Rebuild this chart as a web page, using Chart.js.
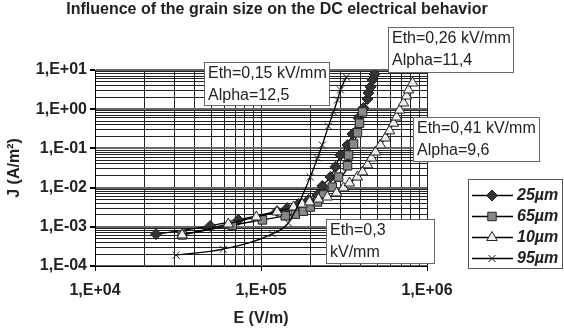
<!DOCTYPE html>
<html>
<head>
<meta charset="utf-8">
<script src="https://cdn.jsdelivr.net/npm/chart.js@4/dist/chart.umd.min.js"></script>
<style>
  body { margin: 0; background: #fff; }
</style>
</head>
<body>
<canvas id="myChart" width="564" height="328"></canvas>
<script>
// values: E in V/m, J in A/m2
var e25 = [2.33e4, 4.94e4, 7.3e4, 1.25e5, 1.44e5, 1.68e5, 1.93e5, 2.19e5, 2.34e5, 2.62e5, 2.81e5, 3.01e5, 3.32e5, 3.56e5, 3.86e5, 4.14e5, 4.38e5, 4.44e5, 4.57e5, 4.70e5, 4.83e5];
var j25 = [6.5e-4, 1.05e-3, 1.5e-3, 2.5e-3, 3.0e-3, 3.8e-3, 4.8e-3, 6.5e-3, 1.1e-2, 1.86e-2, 3.4e-2, 6.8e-2, 0.122, 0.233, 0.60, 1.07, 1.82, 2.6, 3.7, 5.6, 7.9];

var e65 = [3.35e4, 6.71e4, 1.02e5, 1.40e5, 1.61e5, 1.80e5, 1.98e5, 2.19e5, 2.38e5, 2.69e5, 2.93e5, 3.32e5, 3.37e5, 3.61e5, 3.81e5, 3.92e5, 4.09e5];
var j65 = [6.2e-4, 1.1e-3, 1.5e-3, 1.9e-3, 2.1e-3, 2.5e-3, 3.2e-3, 4.3e-3, 6.5e-3, 1.03e-2, 1.86e-2, 3.6e-2, 6.8e-2, 0.13, 0.25, 0.44, 0.85];

var e10 = [3.35e4, 6.35e4, 9.37e4, 1.25e5, 1.57e5, 1.77e5, 1.96e5, 2.22e5, 2.51e5, 2.85e5, 3.14e5, 3.41e5, 3.81e5, 4.09e5, 4.38e5, 4.63e5, 4.90e5, 5.25e5, 5.62e5, 5.95e5, 6.29e5, 6.56e5, 6.84e5, 7.22e5, 7.53e5, 7.74e5, 8.19e5];
var j10 = [6.2e-4, 1.18e-3, 1.78e-3, 2.4e-3, 3.2e-3, 3.8e-3, 4.3e-3, 5.1e-3, 5.75e-3, 7.3e-3, 9.8e-3, 1.31e-2, 1.86e-2, 2.5e-2, 3.8e-2, 5.7e-2, 8.1e-2, 0.122, 0.184, 0.28, 0.44, 0.63, 0.95, 1.44, 2.17, 3.09, 4.66];

var e95 = [3.08e4, 5.92e4, 1.17e5, 1.46e5, 1.98e5, 2.19e5, 2.34e5, 2.55e5, 2.73e5, 2.89e5, 3.01e5, 3.27e5];
var j95 = [1.9e-4, 2.7e-4, 6.6e-4, 1.25e-3, 1.86e-2, 5.7e-2, 0.122, 0.37, 0.85, 1.72, 3.09, 6.6];

var seriesNames = ['25µm', '65µm', '10µm', '95µm'];

var xTickValues = [1e4, 1e5, 1e6];
var xTickLabels = ['1,E+04', '1,E+05', '1,E+06'];
var yTickValues = [1e-4, 1e-3, 1e-2, 1e-1, 1e0, 1e1];
var yTickLabels = ['1,E-04', '1,E-03', '1,E-02', '1,E-01', '1,E+00', '1,E+01'];

var chartTitle = 'Influence of the grain size on the DC electrical behavior';
var xTitle = 'E (V/m)';
var yTitle = 'J (A/m²)';

var notes = [
    {lines: ['Eth=0,15 kV/mm', 'Alpha=12,5'], box: [204, 62, 125, 43]},
    {lines: ['Eth=0,26 kV/mm', 'Alpha=11,4'], box: [388, 27, 125, 45]},
    {lines: ['Eth=0,41 kV/mm', 'Alpha=9,6'], box: [413, 117, 126, 44]},
    {lines: ['Eth=0,3', 'kV/mm'], box: [326, 219, 108, 44]}
];

var FONT = '"Liberation Sans", Arial, sans-serif';

function points(xs, ys) {
    return xs.map(function(x, i) { return {x: x, y: ys[i]}; });
}

// log gridline positions: 1..9 x each decade, then the top value
function logTicks(values) {
    var ticks = [];
    for (var i = 0; i < values.length - 1; i++) {
        for (var d = 1; d <= 9; d++) {
            ticks.push({value: values[i] * d, major: d === 1});
        }
    }
    ticks.push({value: values[values.length - 1], major: true});
    return ticks;
}

function labelFor(values, labels, v) {
    for (var i = 0; i < values.length; i++) {
        if (Math.abs(v / values[i] - 1) < 1e-6) return labels[i];
    }
    return '';
}

function makeSet(label, data, style, radius, fill, order) {
    return {
        label: label,
        data: data,
        showLine: true,
        borderColor: '#000',
        borderWidth: 1.3,
        cubicInterpolationMode: 'monotone',
        pointStyle: style,
        pointRadius: radius,
        pointHoverRadius: radius,
        pointBackgroundColor: fill,
        pointBorderColor: '#222',
        pointBorderWidth: 1,
        order: order
    };
}

var decor = {
    id: 'decor',
    afterDraw: function(chart) {
        var ctx = chart.ctx;
        ctx.save();
        // title
        ctx.fillStyle = '#222';
        ctx.font = 'bold 16px ' + FONT;
        ctx.textAlign = 'center';
        ctx.textBaseline = 'middle';
        ctx.fillText(chartTitle, 277, 10);

        // text boxes
        ctx.font = '16px ' + FONT;
        ctx.textAlign = 'left';
        notes.forEach(function(n) {
            var b = n.box;
            ctx.fillStyle = '#fff';
            ctx.fillRect(b[0], b[1], b[2], b[3]);
            ctx.strokeStyle = '#666';
            ctx.lineWidth = 1;
            ctx.strokeRect(b[0] + 0.5, b[1] + 0.5, b[2], b[3]);
            ctx.fillStyle = '#222';
            n.lines.forEach(function(t, k) {
                ctx.fillText(t, b[0] + 4, b[1] + 12 + k * 22);
            });
        });

        // legend
        var lx = 468, ly = 179;
        ctx.fillStyle = '#fff';
        ctx.fillRect(lx, ly, 94, 89);
        ctx.strokeStyle = '#555';
        ctx.strokeRect(lx + 0.5, ly + 0.5, 94, 89);
        ctx.font = 'italic bold 16px ' + FONT;
        chart.data.datasets.forEach(function(ds, i) {
            var y = 195 + i * 21;
            ctx.strokeStyle = '#000';
            ctx.lineWidth = 1.3;
            ctx.beginPath();
            ctx.moveTo(472, y + 0.5);
            ctx.lineTo(513, y + 0.5);
            ctx.stroke();
            ctx.fillStyle = ds.pointBackgroundColor;
            ctx.strokeStyle = ds.pointBorderColor;
            ctx.lineWidth = 1;
            Chart.helpers.drawPoint(ctx, {pointStyle: ds.pointStyle, radius: ds.pointRadius, rotation: 0, borderWidth: 1}, 492, y + 0.5);
            ctx.fillStyle = '#222';
            ctx.fillText(ds.label, 517, y + 1);
        });
        ctx.restore();
    }
};

(function() {
    Chart.defaults.font.family = FONT;
    Chart.defaults.color = '#222';

    var ctx = document.getElementById('myChart').getContext('2d');
    var myChart = new Chart(ctx, {
        type: 'scatter',
        data: {
            datasets: [
                makeSet(seriesNames[0], points(e25, j25), 'rectRot', 5.5, '#333', 4),
                makeSet(seriesNames[1], points(e65, j65), 'rect', 6, '#888', 3),
                makeSet(seriesNames[2], points(e10, j10), 'triangle', 6, '#eee', 2),
                makeSet(seriesNames[3], points(e95, j95), 'crossRot', 5, '#000', 1)
            ]
        },
        options: {
            responsive: false,
            animation: false,
            layout: { padding: {top: 70, right: 137, left: 0, bottom: 0} },
            plugins: {
                legend: { display: false },
                title: { display: false },
                tooltip: { enabled: false }
            },
            scales: {
                x: {
                    type: 'logarithmic',
                    min: xTickValues[0],
                    max: xTickValues[xTickValues.length - 1],
                    afterBuildTicks: function(scale) { scale.ticks = logTicks(xTickValues); },
                    afterFit: function(scale) { scale.height = 62; },
                    ticks: {
                        autoSkip: false,
                        maxRotation: 0,
                        padding: 10,
                        font: {size: 16, weight: 'bold'},
                        callback: function(v) { return labelFor(xTickValues, xTickLabels, v); }
                    },
                    grid: {
                        color: '#222',
                        lineWidth: 1,
                        tickLength: 5,
                        tickColor: function(c) { return c.tick && c.tick.major ? '#000' : 'rgba(0,0,0,0)'; }
                    },
                    border: { color: '#000' },
                    title: { display: true, text: xTitle, font: {size: 16, weight: 'bold'}, padding: {top: 0, bottom: 0} }
                },
                y: {
                    type: 'logarithmic',
                    min: yTickValues[0],
                    max: yTickValues[yTickValues.length - 1],
                    afterBuildTicks: function(scale) { scale.ticks = logTicks(yTickValues); },
                    afterFit: function(scale) { scale.width = 95; },
                    ticks: {
                        autoSkip: false,
                        padding: 3,
                        font: {size: 16, weight: 'bold'},
                        callback: function(v) { return labelFor(yTickValues, yTickLabels, v); }
                    },
                    grid: {
                        color: function(c) { return c.tick && c.tick.major ? '#666' : '#222'; },
                        lineWidth: function(c) { return c.tick && c.tick.major ? 2 : 1; },
                        tickLength: 5,
                        tickColor: function(c) { return c.tick && c.tick.major ? '#000' : 'rgba(0,0,0,0)'; }
                    },
                    border: { color: '#000' },
                    title: { display: true, text: yTitle, font: {size: 16, weight: 'bold'}, padding: {top: 5, bottom: 0} }
                }
            }
        },
        plugins: [decor]
    });
})();
</script>
</body>
</html>
